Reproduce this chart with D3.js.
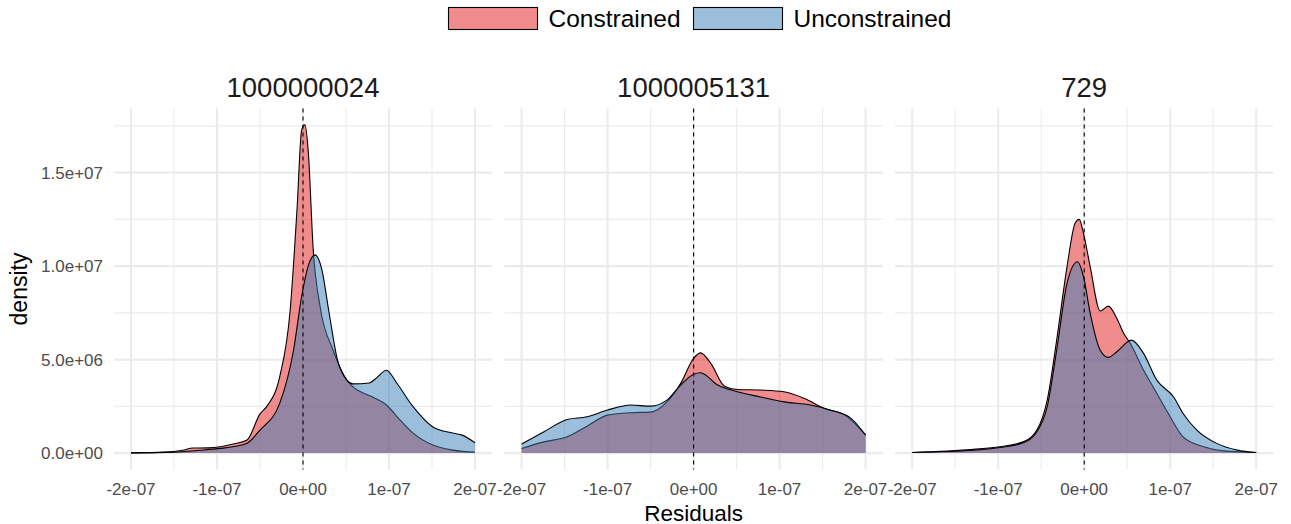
<!DOCTYPE html>
<html>
<head>
<meta charset="utf-8">
<script src="https://cdn.jsdelivr.net/npm/d3@7"></script>
<style>
body { margin: 0; background: #fff; }
text { font-family: "Liberation Sans", Arial, sans-serif; }
</style>
</head>
<body>
<div id="chart"></div>
<script>
// residuals in units of 1e-8, density in units of 1e6
var panels = ["1000000024", "1000005131", "729"];
var groups = ["Constrained", "Unconstrained"];
var xTicks = [-2e-7, -1e-7, 0, 1e-7, 2e-7];
var xTickLabels = ["-2e-07", "-1e-07", "0e+00", "1e-07", "2e-07"];
var yTicks = [0, 5e6, 1e7, 1.5e7];
var yTickLabels = ["0.0e+00", "5.0e+06", "1.0e+07", "1.5e+07"];

var p1ConX = [-20, -16, -14, -12.8, -11, -9.6, -8, -6.5, -5, -4.2, -2.7, -1.5, -0.7, -0.15, 0.23, 0.6, 1.2, 2.0, 3.5, 5.1, 5.8, 8.1, 9.7, 11.3, 12.8, 15.1, 17.4, 20];
var p1ConY = [0.01, 0.05, 0.15, 0.27, 0.28, 0.34, 0.5, 0.7, 2.1, 2.5, 4.1, 7.6, 13, 17.3, 17.55, 16.2, 10.8, 7.8, 5.5, 3.9, 3.55, 3.0, 2.57, 1.76, 1.07, 0.43, 0.16, 0.05];
var p1UncX = [-20, -15, -12, -9.6, -8, -6.5, -5, -2.7, -1.1, -0.15, 0.6, 1.4, 2.2, 3.0, 4.0, 5.1, 5.8, 7.7, 8.5, 9.7, 10.9, 12.8, 15.1, 17.4, 18.5, 20];
var p1UncY = [0.01, 0.05, 0.15, 0.25, 0.35, 0.53, 1.23, 2.67, 5.5, 8.4, 10.0, 10.6, 9.8, 7.6, 5.0, 3.9, 3.7, 3.75, 4.0, 4.43, 3.75, 2.48, 1.4, 1.07, 0.96, 0.55];

var p2ConX = [-20, -17.4, -14.7, -12.4, -10, -7.3, -5, -3.1, -1.5, 0, 0.8, 2.0, 3.6, 5.1, 7.8, 10.5, 12.9, 15.2, 17.6, 20];
var p2ConY = [0.25, 0.6, 0.87, 1.44, 2.03, 2.16, 2.19, 2.74, 3.73, 5.06, 5.36, 4.8, 3.58, 3.4, 3.37, 3.28, 2.92, 2.39, 2.03, 0.96];
var p2UncX = [-20, -17.4, -14.7, -12.4, -10, -7.3, -5, -3.1, -1.5, 0, 0.8, 2.8, 5.1, 7.8, 10.5, 13.6, 15.9, 18.3, 20];
var p2UncY = [0.48, 1.14, 1.8, 1.94, 2.3, 2.57, 2.51, 2.83, 3.64, 4.22, 4.3, 3.64, 3.28, 3.0, 2.74, 2.57, 2.3, 1.86, 0.96];

var p3ConX = [-20, -12.9, -9.8, -7.1, -5.5, -4.3, -3.2, -2.0, -1.05, -0.58, -0.08, 0.7, 1.86, 2.8, 3.8, 4.6, 5.35, 6.9, 8.45, 10, 11.5, 13.9, 16.2, 20];
var p3ConY = [0.03, 0.2, 0.34, 0.6, 1.23, 2.83, 6.04, 9.96, 12.3, 12.5, 11.75, 9.96, 7.6, 7.86, 7.2, 6.4, 5.87, 4.44, 3.19, 1.94, 0.87, 0.34, 0.12, 0.03];
var p3UncX = [-20, -12.9, -9.8, -7.1, -5.5, -4.3, -3.2, -2.0, -0.78, -0.08, 0.7, 1.86, 2.8, 3.8, 5.5, 6.9, 8.45, 10.4, 11.5, 13.1, 15.4, 17.8, 20];
var p3UncY = [0.03, 0.15, 0.3, 0.55, 1.14, 2.48, 5.5, 9.07, 10.23, 9.43, 7.47, 5.5, 5.12, 5.42, 6.04, 5.33, 3.9, 3.0, 2.12, 1.23, 0.52, 0.16, 0.03];

var colors = ["#E41A1C", "#377EB8"];

var width = 1291, height = 524;
var panelLeft = 113.8, panelW = 378.4, panelStep = 390.6;
var panelTop = 108.5, panelBottom = 469.5;

function toPts(xs, ys) {
	return xs.map((x, i) => ({x: x * 1e-8, y: ys[i] * 1e6}));
}

var series = [
	[toPts(p1ConX, p1ConY), toPts(p1UncX, p1UncY)],
	[toPts(p2ConX, p2ConY), toPts(p2UncX, p2UncY)],
	[toPts(p3ConX, p3ConY), toPts(p3UncX, p3UncY)]
];

var svg = d3.select("#chart").append("svg").attr("width", width).attr("height", height);

var maxY = d3.max(series.flat(2), d => d.y);
var y = d3.scaleLinear().domain([-0.05 * maxY, 1.05 * maxY]).range([panelBottom, panelTop]);

series.forEach(function(ser, p) {
	var x0 = panelLeft + p * panelStep;
	var x = d3.scaleLinear().domain([-2.2e-7, 2.2e-7]).range([x0, x0 + panelW]);
	var g = svg.append("g");

	// minor grid
	[2.5e6, 7.5e6, 1.25e7, 1.75e7].forEach(v => {
		g.append("line").attr("x1", x0).attr("x2", x0 + panelW).attr("y1", y(v)).attr("y2", y(v))
		.attr("stroke", "#EBEBEB").attr("stroke-width", 1.1);
	});
	[-1.5e-7, -0.5e-7, 0.5e-7, 1.5e-7].forEach(v => {
		g.append("line").attr("x1", x(v)).attr("x2", x(v)).attr("y1", panelTop).attr("y2", panelBottom)
		.attr("stroke", "#EBEBEB").attr("stroke-width", 1.1);
	});
	// major grid
	yTicks.forEach(v => {
		g.append("line").attr("x1", x0).attr("x2", x0 + panelW).attr("y1", y(v)).attr("y2", y(v))
		.attr("stroke", "#EBEBEB").attr("stroke-width", 2.1);
	});
	xTicks.forEach(v => {
		g.append("line").attr("x1", x(v)).attr("x2", x(v)).attr("y1", panelTop).attr("y2", panelBottom)
		.attr("stroke", "#EBEBEB").attr("stroke-width", 2.1);
	});

	var area = d3.area().x(d => x(d.x)).y0(y(0)).y1(d => y(d.y)).curve(d3.curveMonotoneX);
	var line = d3.line().x(d => x(d.x)).y(d => y(d.y)).curve(d3.curveMonotoneX);

	ser.forEach(function(pts, k) {
		g.append("path").datum(pts).attr("d", area)
		.attr("fill", colors[k]).attr("fill-opacity", 0.5);
		g.append("path").datum(pts).attr("d", line)
		.attr("fill", "none").attr("stroke", "#000").attr("stroke-width", 1.1)
		.attr("stroke-linejoin", "round");
	});

	g.append("line").attr("x1", x(0)).attr("x2", x(0)).attr("y1", panelTop).attr("y2", panelBottom)
	.attr("stroke", "#000").attr("stroke-width", 1.1).attr("stroke-dasharray", "4,4");

	// x tick labels
	xTicks.forEach((v, i) => {
		g.append("text").attr("x", x(v)).attr("y", 495).attr("text-anchor", "middle")
		.attr("font-size", "17px").attr("fill", "#4D4D4D").text(xTickLabels[i]);
	});

	// strip title
	svg.append("text").attr("x", x0 + panelW / 2).attr("y", 97).attr("text-anchor", "middle")
	.attr("font-size", "27.5px").attr("fill", "#1A1A1A").text(panels[p]);
});

// y tick labels
yTicks.forEach((v, i) => {
	svg.append("text").attr("x", 103).attr("y", y(v) + 6).attr("text-anchor", "end")
	.attr("font-size", "17px").attr("fill", "#4D4D4D").text(yTickLabels[i]);
});

// axis titles
svg.append("text").attr("x", panelLeft + panelStep + panelW / 2).attr("y", 520.5).attr("text-anchor", "middle")
.attr("font-size", "22.5px").attr("fill", "#000").text("Residuals");
svg.append("text").attr("transform", "translate(27," + ((panelTop + panelBottom) / 2) + ") rotate(-90)")
.attr("text-anchor", "middle").attr("font-size", "23px").attr("fill", "#000").text("density");

// legend
var legendX = [448.5, 693.5];
groups.forEach((name, k) => {
	svg.append("rect").attr("x", legendX[k]).attr("y", 7.5).attr("width", 89).attr("height", 22)
	.attr("fill", colors[k]).attr("fill-opacity", 0.5).attr("stroke", "#000").attr("stroke-width", 1.1);
	svg.append("text").attr("x", legendX[k] + 100).attr("y", 27).attr("font-size", "24.5px")
	.attr("fill", "#000").text(name);
});
</script>
</body>
</html>
